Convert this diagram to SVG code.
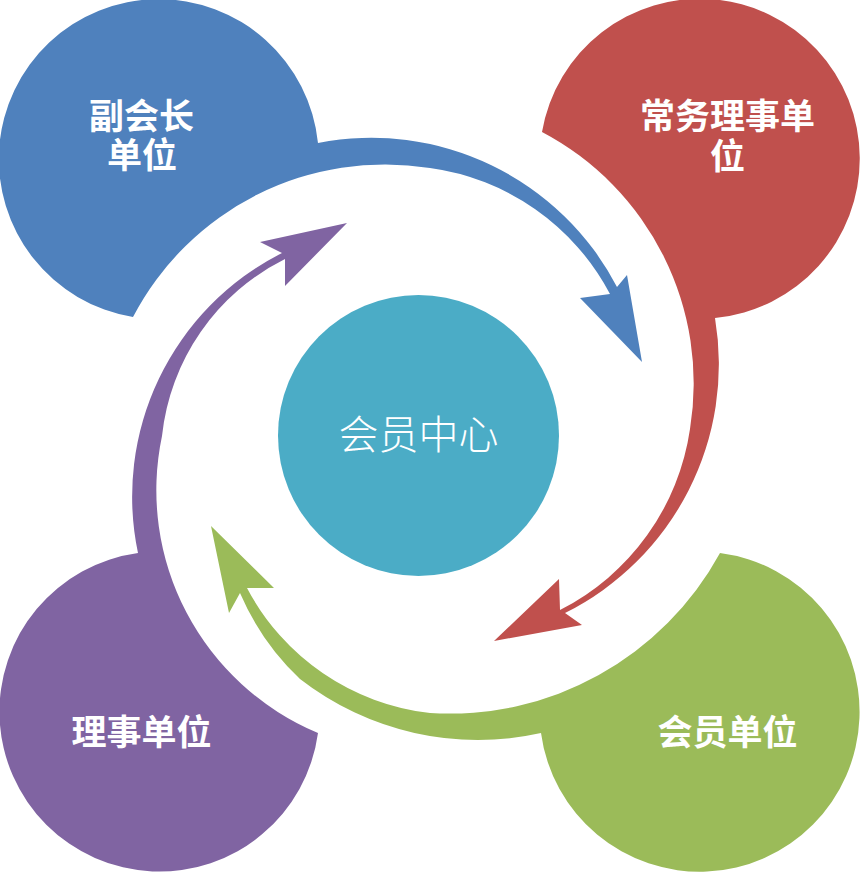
<svg xmlns="http://www.w3.org/2000/svg" width="860" height="872" viewBox="0 0 860 872">
<style>
.lbl{font-family:"Liberation Sans","Noto Sans CJK SC",sans-serif;font-weight:bold;font-size:35px;fill:#ffffff;text-anchor:middle}
.ctr{font-family:"Noto Sans CJK SC","Noto Sans",sans-serif;font-weight:300;font-size:40px;fill:#ffffff;text-anchor:middle}
</style>
<rect width="860" height="872" fill="#ffffff"/>
<g id="connectors">
</g>
<g id="node-fuhuizhang">
<path fill="#4F81BD" d="M133 317 A160 160 0 1 1 318 143 A277 277 0 0 1 617 287 L627 275 L642 362 L580 298 L610 294 A240 240 0 0 0 430 168 A284 284 0 0 0 133 317 Z"/>
<text class="lbl" x="141.5" y="128.5">副会长</text>
<text class="lbl" x="142" y="168">单位</text>
</g>
<g id="node-changwu">
<path fill="#C0504D" d="M542 132 A160 160 0 1 1 715 318 A278 278 0 0 1 565 613 L582 625 L494 641 L559 579 L560 610 A242 242 0 0 0 690 429 A284 284 0 0 0 542 132 Z"/>
<text class="lbl" x="727.5" y="128.5">常务理事单</text>
<text class="lbl" x="727.5" y="168.5">位</text>
</g>
<g id="node-huiyuan">
<path fill="#9BBB59" d="M720 553 A160 160 0 1 1 541 733 A290 290 0 0 1 300 679 A260 260 0 0 1 240 593 L229 613 L211 526 L274 588 L247 588 A237 237 0 0 0 430 713 A308 308 0 0 0 720 553 Z"/>
<text class="lbl" x="727.5" y="745">会员单位</text>
</g>
<g id="node-lishi">
<path fill="#8064A2" d="M318 733 A160 160 0 1 1 138 553 A273 273 0 0 1 282 253 L260 242 L347 223 L285 286 L285 259 A224 224 0 0 0 162 436 A263 263 0 0 0 318 733 Z"/>
<text class="lbl" x="141.5" y="745">理事单位</text>
</g>
<g id="node-center">
<circle cx="418.5" cy="435.5" r="140.5" fill="#4BACC6"/>
<text class="ctr" x="418.5" y="449">会员中心</text>
</g>
</svg>
